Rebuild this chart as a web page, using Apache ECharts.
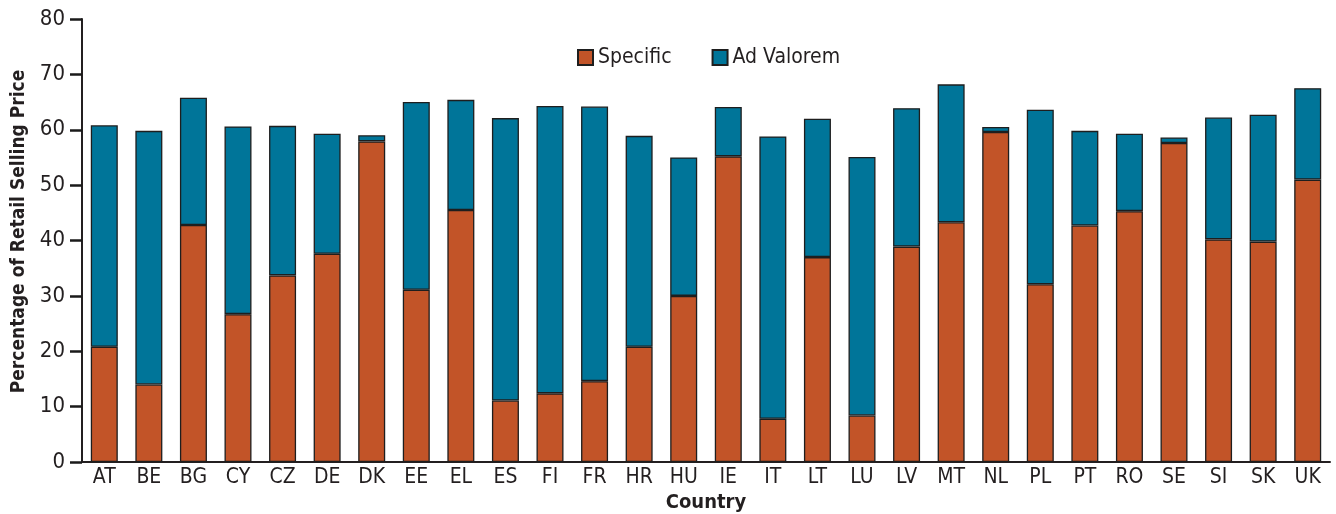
<!DOCTYPE html>
<html>
<head>
<meta charset="utf-8">
<script src="https://cdn.jsdelivr.net/npm/echarts@6/dist/echarts.min.js"></script>
<style>
  html, body { margin: 0; padding: 0; background: #fff; }
  #main { width: 1336px; height: 514px; }
</style>
</head>
<body>
<div id="main"></div>
<script>
  // data
  const countries = ['AT', 'BE', 'BG', 'CY', 'CZ', 'DE', 'DK', 'EE', 'EL', 'ES', 'FI', 'FR', 'HR', 'HU',
    'IE', 'IT', 'LT', 'LU', 'LV', 'MT', 'NL', 'PL', 'PT', 'RO', 'SE', 'SI', 'SK', 'UK']
  const specific = [20.8, 14.0, 42.8, 26.7, 33.7, 37.6, 57.9, 31.1, 45.5, 11.1, 12.4, 14.6, 20.8, 30.0,
    55.2, 7.8, 37.0, 8.4, 38.9, 43.3, 59.6, 32.1, 42.7, 45.3, 57.6, 40.2, 39.8, 51.0]
  const adValorem = [40.0, 45.8, 23.0, 33.9, 27.0, 21.7, 1.1, 33.9, 19.9, 51.0, 51.9, 49.6, 38.1, 25.0,
    8.9, 51.0, 25.0, 46.7, 25.0, 24.9, 0.9, 31.5, 17.1, 14.0, 1.0, 22.0, 22.9, 16.5]
  const yTicks = { min: 0, max: 80, interval: 10 }

  const font = "'DejaVu Sans Condensed', 'Liberation Sans Narrow', 'Roboto', sans-serif"
  const textColor = '#231f20'

  const chart = echarts.init(document.getElementById('main'), null, { renderer: 'canvas' })
  chart.setOption({
    animation: false,
    textStyle: { fontFamily: font },
    legend: {
      left: 572,
      top: 42,
      icon: 'rect',
      itemWidth: 15,
      itemHeight: 15,
      itemGap: 40,
      textStyle: { fontSize: 21, color: textColor, fontFamily: font },
      data: ['Specific', 'Ad Valorem']
    },
    grid: { left: 82, right: 6, top: 19, bottom: 52, containLabel: false, outerBoundsMode: 'none' },
    xAxis: {
      type: 'category',
      data: countries,
      name: 'Country',
      nameLocation: 'middle',
      nameGap: 29,
      nameTextStyle: { fontSize: 20, fontWeight: 'bold', color: textColor, fontFamily: font },
      axisLine: { lineStyle: { color: '#231f20', width: 2 } },
      axisTick: { show: false },
      axisLabel: { fontSize: 21, color: textColor, margin: 5, fontFamily: font }
    },
    yAxis: {
      type: 'value',
      min: yTicks.min,
      max: yTicks.max,
      interval: yTicks.interval,
      name: 'Percentage of Retail Selling Price',
      nameLocation: 'middle',
      nameGap: 53,
      nameTextStyle: { fontSize: 19, fontWeight: 'bold', color: textColor, fontFamily: font, padding: [0, 0, 0, 18] },
      splitLine: { show: false },
      axisLine: { show: true, lineStyle: { color: '#231f20', width: 2 } },
      axisTick: { show: true, length: 12, lineStyle: { color: '#1a1a1a', width: 2.5 } },
      axisLabel: { fontSize: 22, color: textColor, margin: 17, fontFamily: font }
    },
    series: [
      {
        name: 'Specific',
        type: 'bar',
        stack: 'tax',
        barWidth: 27,
        data: specific,
        itemStyle: { color: '#c25428', borderColor: '#1e1e1e', borderWidth: 1.3 }
      },
      {
        name: 'Ad Valorem',
        type: 'bar',
        stack: 'tax',
        barWidth: 27,
        data: adValorem,
        itemStyle: { color: '#007599', borderColor: '#1e1e1e', borderWidth: 1.3 }
      }
    ]
  })
</script>
</body>
</html>
